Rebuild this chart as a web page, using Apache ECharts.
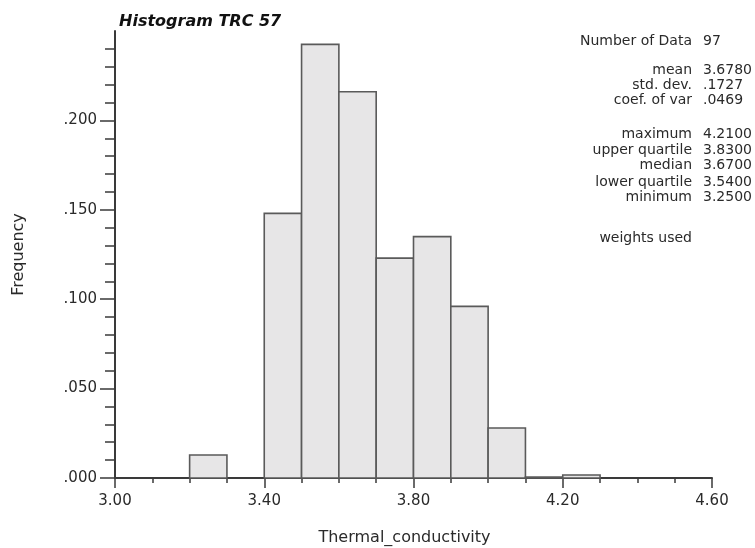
<!DOCTYPE html>
<html><head><meta charset="utf-8">
<script src="https://cdn.jsdelivr.net/npm/echarts@6.0.0/dist/echarts.min.js"></script>
<style>html,body{margin:0;padding:0;background:#fff}#c{width:755px;height:548px}</style>
</head><body><div id="c"></div>
<script>
// ---- data ----
const binStarts = [3.2, 3.4, 3.5, 3.6, 3.7, 3.8, 3.9, 4.0, 4.1, 4.2];
const frequencies = [0.0129, 0.148, 0.2425, 0.216, 0.123, 0.135, 0.096, 0.028, 0.0005, 0.0017];
const binWidth = 0.1;
const xMin = 3.0, xMax = 4.6, xStep = 0.4;
const yMin = 0, yMax = 0.25, yStep = 0.05;
const statLabels = ['Number of Data', 'mean', 'std. dev.', 'coef. of var', 'maximum', 'upper quartile', 'median', 'lower quartile', 'minimum', 'weights used'];
const statValues = ['97', '3.6780', '.1727', '.0469', '4.2100', '3.8300', '3.6700', '3.5400', '3.2500', ''];

// ---- layout ----
const statRowY = [41.7, 70, 85.7, 100.5, 134.3, 150, 165.7, 182, 197.5, 238.3];
const FONT = 'DejaVu Sans';
const G = {left: 115, right: 43, top: 31, bottom: 70};
const plotH = 548 - G.top - G.bottom;
const pxPerUnit = plotH / (yMax - yMin);

const chart = echarts.init(document.getElementById('c'), null, {renderer: 'canvas'});

const hiddenX = (gi) => ({type: 'value', gridIndex: gi, min: xMin, max: xMax, show: false});
const axisCol = '#3a3a3a';

const graphics = [];
statLabels.forEach((lab, i) => {
  graphics.push({type: 'text', x: 692, y: statRowY[i], style: {text: lab, align: 'right', verticalAlign: 'middle', font: '14px "' + FONT + '"', fill: '#2a2a2a'}});
  if (statValues[i] !== '') graphics.push({type: 'text', x: 703, y: statRowY[i], style: {text: statValues[i], align: 'left', verticalAlign: 'middle', font: '14px "' + FONT + '"', fill: '#2a2a2a'}});
});

chart.setOption({
  animation: false,
  backgroundColor: '#fff',
  title: {text: 'Histogram TRC 57', left: 114, top: 9,
    textStyle: {fontFamily: FONT, fontSize: 16, fontWeight: 'bold', fontStyle: 'italic', color: '#111'}},
  grid: [
    {left: G.left, right: G.right, top: G.top, bottom: G.bottom, outerBoundsMode: 'none'},
    {left: G.left, right: G.right, top: G.top + 0.01 * pxPerUnit, bottom: G.bottom, outerBoundsMode: 'none'},
    {left: G.left, right: G.right, top: G.top + 0.05 * pxPerUnit, bottom: G.bottom, outerBoundsMode: 'none'}
  ],
  xAxis: [
    {type: 'value', gridIndex: 0, min: xMin, max: xMax, interval: xStep,
      name: 'Thermal_conductivity', nameLocation: 'middle', nameGap: 52,
      nameTextStyle: {fontFamily: FONT, fontSize: 16, color: '#2a2a2a', padding: [0, 18, 0, 0]},
      axisLine: {lineStyle: {color: axisCol, width: 2}},
      axisTick: {show: true, length: 10, lineStyle: {color: axisCol, width: 1.5}},
      minorTick: {show: true, splitNumber: 4, length: 5, lineStyle: {color: axisCol, width: 1.5}},
      splitLine: {show: false},
      axisLabel: {margin: 16, fontFamily: FONT, fontSize: 15, color: '#2a2a2a', formatter: v => v.toFixed(2), hideOverlap: false}},
    hiddenX(1), hiddenX(2)
  ],
  yAxis: [
    {type: 'value', gridIndex: 0, min: yMin, max: yMax, interval: yStep,
      name: 'Frequency', nameLocation: 'middle', nameGap: 88,
      nameTextStyle: {fontFamily: FONT, fontSize: 16, color: '#2a2a2a'},
      axisLine: {show: true, lineStyle: {color: axisCol, width: 2}},
      axisTick: {show: false},
      splitLine: {show: false},
      axisLabel: {margin: 18, fontFamily: FONT, fontSize: 15, color: '#2a2a2a',
        formatter: v => (Math.abs(v - yMax) < 1e-9 ? '' : v.toFixed(3).replace(/^0/, ''))}},
    {type: 'value', gridIndex: 1, min: yMin, max: 0.24, interval: 0.01,
      axisLine: {show: false}, axisLabel: {show: false}, splitLine: {show: false},
      axisTick: {show: true, length: 10, lineStyle: {color: axisCol, width: 1.5}}},
    {type: 'value', gridIndex: 2, min: yMin, max: 0.20, interval: yStep,
      axisLine: {show: false}, axisLabel: {show: false}, splitLine: {show: false},
      axisTick: {show: true, length: 15, lineStyle: {color: axisCol, width: 1.5}}}
  ],
  graphic: graphics,
  series: [{
    type: 'custom', xAxisIndex: 0, yAxisIndex: 0,
    encode: {x: [0, 1], y: 2},
    data: binStarts.map((s, i) => [s, +(s + binWidth).toFixed(2), frequencies[i]]),
    renderItem: function (params, api) {
      const p0 = api.coord([api.value(0), 0]);
      const p1 = api.coord([api.value(1), api.value(2)]);
      return {type: 'rect',
        shape: {x: p0[0], y: p1[1], width: p1[0] - p0[0], height: p0[1] - p1[1]},
        style: {fill: '#e7e6e7', stroke: '#5a5a5a', lineWidth: 1.6}};
    }
  }]
});
</script></body></html>
